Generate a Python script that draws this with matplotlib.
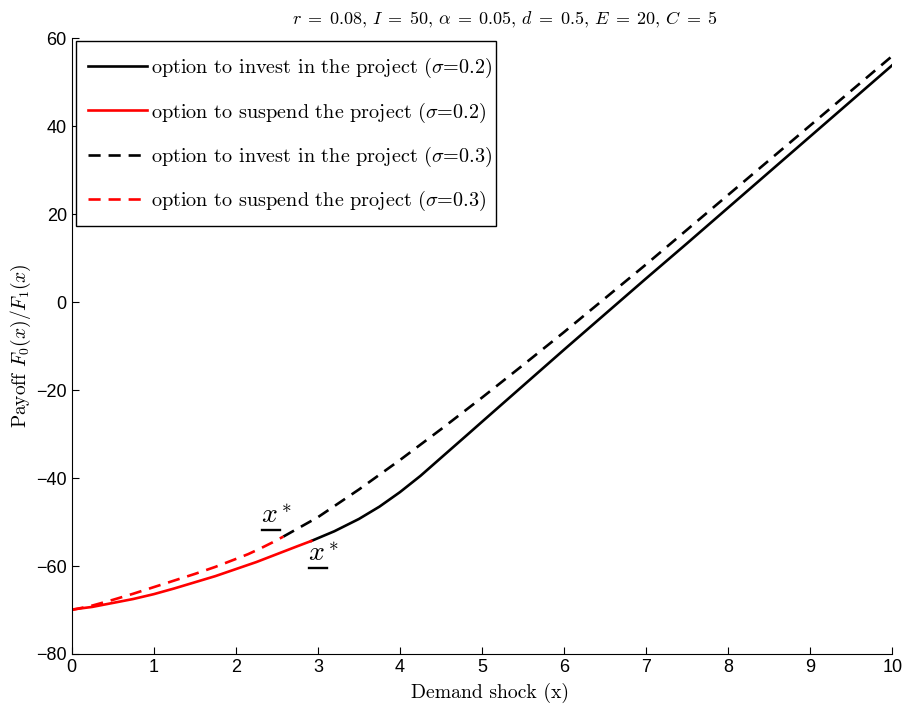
import numpy as np
import matplotlib
matplotlib.use('Agg')
import matplotlib.pyplot as plt
from matplotlib import font_manager
from matplotlib.lines import Line2D
from matplotlib.patches import Rectangle
from matplotlib.transforms import IdentityTransform

x_susp_02 = [0.0, 0.25, 0.5, 0.75, 1.0, 1.25, 1.5, 1.75, 2.0, 2.25, 2.5, 2.75, 2.92]
y_susp_02 = [-69.9, -69.3, -68.4, -67.5, -66.4, -65.1, -63.7, -62.3, -60.7, -59.1, -57.3, -55.5, -54.3]

x_inv_02 = [2.92, 3.2, 3.5, 3.75, 4.0, 4.25, 4.5, 4.83, 5.0, 5.5, 6.0, 6.5, 7.0, 7.5, 8.0, 8.5, 9.0, 9.5, 10.0]
y_inv_02 = [-54.3, -52.1, -49.3, -46.5, -43.2, -39.5, -35.4, -30.0, -27.2, -19.0, -10.8, -2.7, 5.4,
            13.4, 21.5, 29.6, 37.7, 45.8, 53.9]

x_susp_03 = [0.0, 0.25, 0.5, 0.75, 1.0, 1.25, 1.5, 1.75, 2.0, 2.15, 2.3, 2.45, 2.58]
y_susp_03 = [-70.0, -69.0, -67.7, -66.3, -64.8, -63.3, -61.8, -60.2, -58.4, -57.3, -56.0, -54.6, -53.3]

x_inv_03 = [2.58, 3.0, 3.5, 4.0, 4.5, 5.0, 5.5, 6.0, 6.5, 7.0, 7.5, 8.0, 8.5, 9.0, 9.5, 10.0]
y_inv_03 = [-53.3, -48.9, -42.6, -35.9, -28.9, -21.7, -14.3, -6.8, 0.9, 8.6, 16.5, 24.4, 32.3, 40.2, 48.1, 56.0]

labels = ['option to invest in the project ($\\sigma$=0.2)',
          'option to suspend the project ($\\sigma$=0.2)',
          'option to invest in the project ($\\sigma$=0.3)',
          'option to suspend the project ($\\sigma$=0.3)']

installed = {f.name for f in font_manager.fontManager.ttflist}
tickfont = 'Liberation Sans Narrow' if 'Liberation Sans Narrow' in installed else 'Liberation Sans'

plt.rcParams['mathtext.fontset'] = 'cm'
plt.rcParams['font.family'] = tickfont

fig = plt.figure(figsize=(9.05, 7.11), dpi=100)
ax = fig.add_axes([0.0792, 0.0802, 0.9068, 0.8659])

lw = 1.9
d = (4.6, 3.0)
ax.plot(x_inv_02, y_inv_02, color='black', lw=lw, label=labels[0])
ax.plot(x_susp_02, y_susp_02, color='red', lw=lw, label=labels[1])
ax.plot(x_inv_03, y_inv_03, color='black', lw=lw, dashes=d, label=labels[2])
ax.plot(x_susp_03, y_susp_03, color='red', lw=lw, dashes=d, label=labels[3])

xstar = [ax.text(2.31, -51.6, r'$x^*$', fontsize=20, ha='left', va='bottom'),
         ax.text(2.88, -60.3, r'$x^*$', fontsize=20, ha='left', va='bottom')]

ax.set_xlim(0, 10)
ax.set_ylim(-80, 60)
ax.set_xticks(range(0, 11))
ax.set_yticks(range(-80, 61, 20))
ax.spines['top'].set_visible(False)
ax.spines['right'].set_visible(False)
ax.tick_params(direction='in', length=5, labelsize=13)

ax.set_title(r'$r\;=\;0.08,\,I\;=\;50,\,\alpha\;=\;0.05,\,d\;=\;0.5,\,E\;=\;20,\,C\;=\;5$',
             fontsize=13, pad=10, x=0.528)
ax.set_xlabel('Demand shock (x)', family='cmr10', fontsize=14.2, labelpad=5, x=0.51)
ax.set_ylabel('Payoff $F_0(x)/F_1(x)$', family='cmr10', fontsize=14, labelpad=2)

leg = ax.legend(loc='upper left', bbox_to_anchor=(0.0199, 0.971), prop={'family': 'cmr10', 'size': 14.55},
                frameon=False, handlelength=2.9, labelspacing=1.0,
                borderpad=0.0, handletextpad=0.22, borderaxespad=0.0)

fig.canvas.draw()
r = fig.canvas.get_renderer()

# MATLAB-like legend box: wide on the left, tight on the right
lb = leg.get_window_extent(r)
fig_h = fig.bbox.height
top_px, bot_px = fig_h - 41, fig_h - 226
box = Rectangle((lb.x0 - 12, bot_px), lb.width + 16, top_px - bot_px,
                transform=IdentityTransform(), facecolor='white', edgecolor='black',
                lw=1.0, zorder=4.5, clip_on=False)
ax.add_artist(box)

# underline under the x of x*  (mathtext has no \underline)
for t in xstar:
    bb = t.get_window_extent(r)
    ax.add_artist(Line2D([bb.x0 + 1, bb.x0 + 0.6 * bb.width], [bb.y0 - 1, bb.y0 - 1],
                         transform=IdentityTransform(), color='black', lw=1.7, clip_on=False))

plt.savefig('out.png', dpi=100)
